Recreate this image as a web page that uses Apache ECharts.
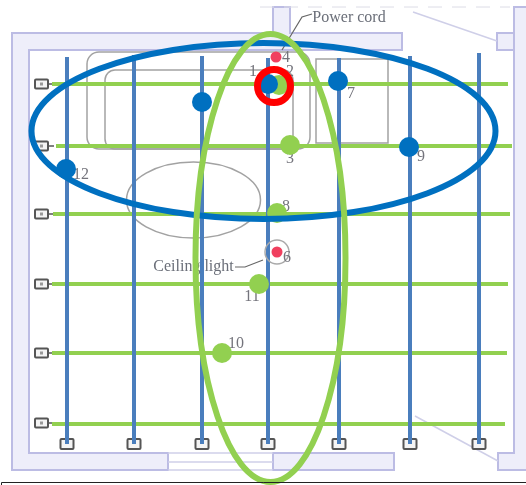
<!DOCTYPE html>
<html><head><meta charset="utf-8">
<style>html,body{margin:0;padding:0;background:#fff}#c{width:526px;height:485px}</style>
<script src="https://cdn.jsdelivr.net/npm/echarts@6/dist/echarts.min.js"></script>
</head><body><div id="c"></div>
<script>
// Plan coordinates
const greenRows = [84, 146, 214, 284, 353, 424];
const greenRowStart = [52, 56, 53, 52, 52, 52];
const greenRowEnd = [508, 512, 510, 508, 507, 505];
const blueColumns = [67, 134, 202, 268, 339, 410, 479];
const blueColumnTop = [57, 55, 56, 58, 58, 56, 53];
const blueColumnBottom = 444;
const bluePoints = [[202,102],[66,169],[338,81],[409,147],[268,84]];
const greenPoints = [[279,85],[290,145],[277,213],[259,284],[222,353]];
const redPoints = [[276,57],[277,252]];
const highlightPoint = [274,86];
const blueEllipse = [263.5,131,232,88];
const greenEllipse = [270.5,258,75,224];
const tableEllipse = [193.5,200,67,38];
const wallPolygons = [
  [[12,33],[273,33],[273,7],[290,7],[290,33],[402,33],[402,50],[29,50],[29,453],[168,453],[168,470],[12,470]],
  [[514,7],[530,7],[530,470],[498,470],[498,453],[514,453]],
  [[497,33],[514,33],[514,50],[497,50]],
  [[273,453],[394,453],[394,470],[273,470]]
];
const planLines = [
  [[168,453],[273,453]],[[168,462],[273,462]],[[168,470],[273,470]],
  [[415,416],[498,461]],[[413,12],[497,41]]
];
const furnitureRects = [[87,52,223,97,12],[105,70,188,79,10],[316,59,72,84,0]];
const leaderLines = [[[312,14],[302,17],[282,50]],[[235,267],[245,267],[263,260]]];
const leftBoxRows = [84, 146, 214, 284, 353, 423];
const bottomBoxColumns = [67, 134, 202, 268, 339, 410, 479];
const numberLabels = [['12',81,175],['7',351,94],['9',421,157],['3',290,159],['8',286,207],['6',287,258],['11',252,297],['10',236,344],['4',286,58],['1',253,72],['2',290,72]];
const textLabels = [['Power cord',349,18],['Ceiling light',193.5,267]];

const BLUE_LINE='#4a7ebd', GREEN='#92d050', BLUE='#0070c0', RED='#ff0000', PINK='#f0405f';
const WALL_FILL='#eeeefa', WALL_LINE='#bcbce4', GREY='#a2a2a2', DARK='#555';

const chart = echarts.init(document.getElementById('c'), null, {renderer:'canvas'});
const idx = a => a.map((_,i)=>[i,i]);
function pts(api, arr){ return arr.map(p=>api.coord(p)); }
function ellipseItem(e, stroke, lineWidth){
  return (params, api)=>{
    const c = api.coord([e[0],e[1]]), s = api.size([e[2],e[3]]);
    return {type:'ellipse', shape:{cx:c[0],cy:c[1],rx:s[0],ry:s[1]}, style:{fill:'none',stroke,lineWidth}};
  };
}
function segs(data, color, width, z){
  return {type:'line', data, z, silent:true, showSymbol:false, symbol:'none', lineStyle:{color,width,cap:'butt'}};
}
function textSeries(list, size, color){
  return {type:'custom', z:6, silent:true, data:idx(list), renderItem:(p,api)=>{
    const d=list[api.value(0)], c=api.coord([d[1],d[2]]);
    return {type:'text', x:c[0], y:c[1], style:{text:d[0],fill:color,font:size+'px "Liberation Serif"',align:'center',verticalAlign:'middle'}};
  }};
}
const series = [];
// walls
series.push({type:'custom', z:1, silent:true, data:idx(wallPolygons), renderItem:(p,api)=>({
  type:'polygon', shape:{points:pts(api,wallPolygons[api.value(0)])}, style:{fill:WALL_FILL,stroke:WALL_LINE,lineWidth:2}})});
series.push({type:'custom', z:1, silent:true, data:idx(planLines), renderItem:(p,api)=>({
  type:'polyline', shape:{points:pts(api,planLines[api.value(0)])}, style:{fill:'none',stroke:'#cfcfe8',lineWidth:1.5}})});
// dashed top edge
series.push({type:'line', z:1, silent:true, symbol:'none', data:[[260,7],[510,7]], lineStyle:{color:'#dcdce6',width:1,type:[14,10]}});
// furniture
series.push({type:'custom', z:2, silent:true, data:idx(furnitureRects), renderItem:(p,api)=>{
  const r=furnitureRects[api.value(0)], a=api.coord([r[0],r[1]]), s=api.size([r[2],r[3]]);
  return {type:'rect', shape:{x:a[0],y:a[1],width:s[0],height:s[1],r:r[4]}, style:{fill:'none',stroke:GREY,lineWidth:1.5}};
}});
series.push({type:'custom', z:2, silent:true, data:[[0,0]], renderItem:ellipseItem(tableEllipse,GREY,1.5)});
// leaders
series.push({type:'custom', z:2, silent:true, data:idx(leaderLines), renderItem:(p,api)=>({
  type:'polyline', shape:{points:pts(api,leaderLines[api.value(0)])}, style:{fill:'none',stroke:'#666',lineWidth:1.2}})});
// connector boxes
series.push({type:'custom', z:3, silent:true, data:idx(leftBoxRows), renderItem:(p,api)=>{
  const y=leftBoxRows[api.value(0)], a=api.coord([35,y-4.5]), s=api.size([13,9]), b=api.coord([40,y-1.5]), t=api.size([3,3]);
  const l0=api.coord([48,y]), l1=api.coord([54,y]);
  return {type:'group',children:[
    {type:'line',shape:{x1:l0[0],y1:l0[1],x2:l1[0],y2:l1[1]},style:{stroke:DARK,lineWidth:1.5}},
    {type:'rect',shape:{x:a[0],y:a[1],width:s[0],height:s[1],r:1},style:{fill:'#f4f4f4',stroke:DARK,lineWidth:2}},
    {type:'rect',shape:{x:b[0],y:b[1],width:t[0],height:t[1]},style:{fill:'#999'}}
  ]};
}});
series.push({type:'custom', z:3, silent:true, data:idx(bottomBoxColumns), renderItem:(p,api)=>{
  const x=bottomBoxColumns[api.value(0)], a=api.coord([x-6.5,439]), s=api.size([13,10]);
  return {type:'rect',shape:{x:a[0],y:a[1],width:s[0],height:s[1],r:1},style:{fill:'#f4f4f4',stroke:DARK,lineWidth:2}};
}});
// grid lines
greenRows.forEach((y,i)=>series.push(segs([[greenRowStart[i],y],[greenRowEnd[i],y]],GREEN,4,4)));
blueColumns.forEach((x,i)=>series.push(segs([[x,blueColumnTop[i]],[x,blueColumnBottom]],BLUE_LINE,4,5)));
// pale red and text
series.push({type:'custom', z:6, silent:true, data:[[0,0]], renderItem:(p,api)=>{
  const c=api.coord(redPoints[1]);
  return {type:'circle',shape:{cx:c[0],cy:c[1],r:12},style:{fill:'none',stroke:'#aaa',lineWidth:1.5}};
}});
series.push({type:'scatter', z:6, silent:true, symbolSize:11, data:redPoints, itemStyle:{color:PINK,opacity:1}});
series.push(textSeries(numberLabels,16,'#74747c'));
series.push(textSeries(textLabels,16,'#6a6e78'));
// points and big ellipses
series.push({type:'scatter', z:6, silent:true, symbolSize:20, data:greenPoints, itemStyle:{color:GREEN,opacity:1}});
series.push({type:'custom', z:7, silent:true, data:[[0,0]], renderItem:ellipseItem(blueEllipse,BLUE,6)});
series.push({type:'scatter', z:9, silent:true, symbolSize:20, data:bluePoints, itemStyle:{color:BLUE,opacity:1}});
series.push({type:'custom', z:10, silent:true, data:[[0,0]], renderItem:ellipseItem(greenEllipse,GREEN,6)});
series.push({type:'custom', z:11, silent:true, data:[[0,0]], renderItem:(p,api)=>{
  const c=api.coord(highlightPoint);
  return {type:'circle',shape:{cx:c[0],cy:c[1],r:16.5},style:{fill:'none',stroke:RED,lineWidth:7}};
}});
// frame at the bottom
series.push({type:'line', z:12, silent:true, symbol:'none', data:[[1.5,490],[1.5,482.5],[526,482.5]], lineStyle:{color:'#222',width:1}});

chart.setOption({
  animation:false,
  backgroundColor:'#fff',
  grid:{left:0,right:0,top:0,bottom:0},
  xAxis:{type:'value',min:0,max:526,show:false},
  yAxis:{type:'value',min:0,max:485,inverse:true,show:false},
  series
});
</script></body></html>
